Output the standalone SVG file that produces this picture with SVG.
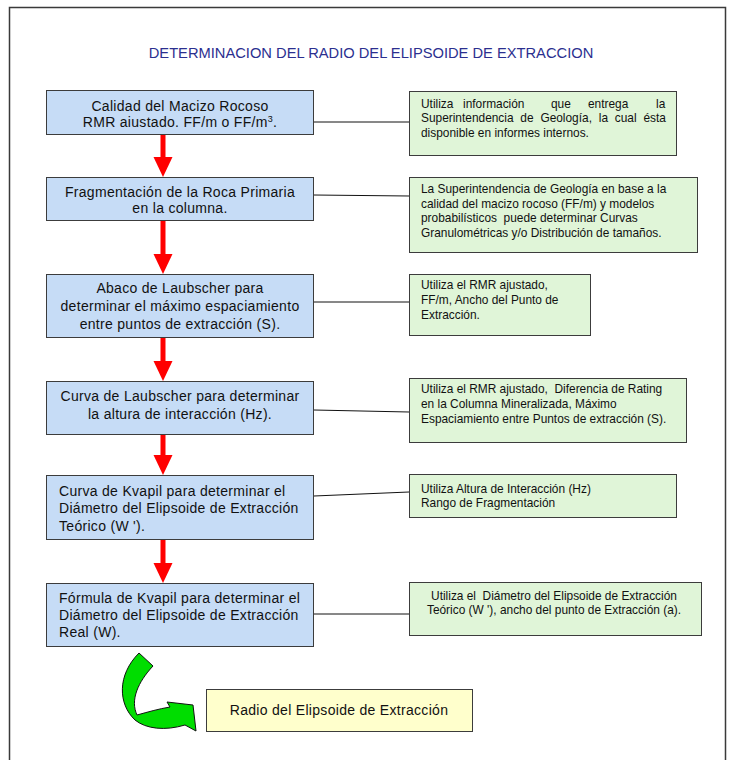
<svg xmlns="http://www.w3.org/2000/svg" width="732" height="760" viewBox="0 0 732 760">
<style>
text{font-family:"Liberation Sans",Arial,sans-serif;fill:#111}
.title{font-size:14.7px;fill:#2b2f8f}
.bt{font-size:14px;letter-spacing:0.3px}
.gt{font-size:11.9px;white-space:pre}
.blue{fill:#c6dcf6;stroke:#3c3c3c;stroke-width:1}
.green{fill:#e0f5d8;stroke:#3c3c3c;stroke-width:1}
.yellow{fill:#ffffcc;stroke:#3c3c3c;stroke-width:1}
.conn{stroke:#111;stroke-width:1;fill:none}
.red{stroke:#ff0000;stroke-width:5;marker-end:url(#rh)}
</style>
<defs>
<marker id="rh" markerUnits="userSpaceOnUse" markerWidth="20" markerHeight="20" refX="0" refY="10" orient="auto">
<path d="M0,0.5 L20,10 L0,19.5 Z" fill="#ff0000"/>
</marker>
</defs>
<rect width="732" height="760" fill="#fff"/>
<path d="M9.5,760 V7.5 H725.5 V760" fill="none" stroke="#3a3a3a" stroke-width="1.5"/>
<text class="title" x="371" y="58" text-anchor="middle">DETERMINACION DEL RADIO DEL ELIPSOIDE DE EXTRACCION</text>

<g id="connectors">
<line class="conn" x1="314" y1="122" x2="409" y2="122"/>
<line class="conn" x1="314" y1="195" x2="409" y2="196"/>
<line class="conn" x1="314" y1="302" x2="409" y2="302"/>
<line class="conn" x1="314" y1="410" x2="409" y2="412"/>
<line class="conn" x1="314" y1="496" x2="409" y2="492"/>
<line class="conn" x1="314" y1="614" x2="409" y2="614"/>
<line class="red" x1="163" y1="135" x2="163" y2="157"/>
<line class="red" x1="163" y1="221" x2="163" y2="254"/>
<line class="red" x1="163" y1="338" x2="163" y2="361"/>
<line class="red" x1="163" y1="435" x2="163" y2="455"/>
<line class="red" x1="163" y1="540" x2="163" y2="563"/>
<path id="greenArrow" d="M139,653 L153,666 C138,682 130,700 137,715 C148,712 158,709 170,707 L167,702 L193,705 L196,731 L185,725 C165,731 146,729 135,720 C118,704 117,675 139,653 Z" fill="#00dd00" stroke="#111" stroke-width="1"/>
</g>

<g id="b1">
<rect class="blue" x="46.5" y="90.5" width="267" height="44"/>
<text class="bt" x="180" y="111" text-anchor="middle">Calidad del Macizo Rocoso</text>
<text class="bt" x="180" y="127" text-anchor="middle">RMR aiustado. FF/m o FF/m<tspan font-size="9" dy="-5">3</tspan><tspan dy="5">.</tspan></text>
</g>
<g id="b2">
<rect class="blue" x="46.5" y="177.5" width="267" height="43"/>
<text class="bt" x="180" y="197" text-anchor="middle">Fragmentación de la Roca Primaria</text>
<text class="bt" x="180" y="213" text-anchor="middle">en la columna.</text>
</g>
<g id="b3">
<rect class="blue" x="46.5" y="274.5" width="267" height="63"/>
<text class="bt" x="180" y="293" text-anchor="middle">Abaco de Laubscher para</text>
<text class="bt" x="180" y="311" text-anchor="middle">determinar el máximo espaciamiento</text>
<text class="bt" x="180" y="329" text-anchor="middle">entre puntos de extracción (S).</text>
</g>
<g id="b4">
<rect class="blue" x="46.5" y="381.5" width="267" height="53"/>
<text class="bt" x="180" y="401" text-anchor="middle">Curva de Laubscher para determinar</text>
<text class="bt" x="180" y="419" text-anchor="middle">la altura de interacción (Hz).</text>
</g>
<g id="b5">
<rect class="blue" x="46.5" y="475.5" width="267" height="64"/>
<text class="bt" x="59" y="496">Curva de Kvapil para determinar el</text>
<text class="bt" x="59" y="513">Diámetro del Elipsoide de Extracción</text>
<text class="bt" x="59" y="530.5">Teórico (W ').</text>
</g>
<g id="b6">
<rect class="blue" x="46.5" y="583.5" width="267" height="63"/>
<text class="bt" x="59" y="603">Fórmula de Kvapil para determinar el</text>
<text class="bt" x="59" y="620">Diámetro del Elipsoide de Extracción</text>
<text class="bt" x="59" y="637">Real (W).</text>
</g>

<g id="g1">
<rect class="green" x="409.5" y="91.5" width="267" height="64"/>
<text class="gt" y="108"><tspan x="421">Utiliza</tspan><tspan x="463">información</tspan><tspan x="551">que</tspan><tspan x="588">entrega</tspan><tspan x="656">la</tspan></text>
<text class="gt" x="421" y="122" word-spacing="3.5">Superintendencia de Geología, la cual ésta</text>
<text class="gt" x="421" y="136.5">disponible en informes internos.</text>
</g>
<g id="g2">
<rect class="green" x="409.5" y="177.5" width="288" height="75"/>
<text class="gt" x="421" y="192.5">La Superintendencia de Geología en base a la</text>
<text class="gt" x="421" y="207.5">calidad del macizo rocoso (FF/m) y modelos</text>
<text class="gt" x="421" y="221.5">probabilísticos  puede determinar Curvas</text>
<text class="gt" x="421" y="236.5">Granulométricas y/o Distribución de tamaños.</text>
</g>
<g id="g3">
<rect class="green" x="409.5" y="274.5" width="181" height="61"/>
<text class="gt" x="421" y="289">Utiliza el RMR ajustado,</text>
<text class="gt" x="421" y="304">FF/m, Ancho del Punto de</text>
<text class="gt" x="421" y="319">Extracción.</text>
</g>
<g id="g4">
<rect class="green" x="409.5" y="378.5" width="277" height="64"/>
<text class="gt" x="421" y="393">Utiliza el RMR ajustado,  Diferencia de Rating</text>
<text class="gt" x="421" y="407.5">en la Columna Mineralizada, Máximo</text>
<text class="gt" x="421" y="422.5">Espaciamiento entre Puntos de extracción (S).</text>
</g>
<g id="g5">
<rect class="green" x="409.5" y="474.5" width="267" height="43"/>
<text class="gt" x="421" y="493">Utiliza Altura de Interacción (Hz)</text>
<text class="gt" x="421" y="506.5">Rango de Fragmentación</text>
</g>
<g id="g6">
<rect class="green" x="409.5" y="582.5" width="292" height="53"/>
<text class="gt" x="554" y="600" text-anchor="middle">Utiliza el  Diámetro del Elipsoide de Extracción</text>
<text class="gt" x="554" y="614" text-anchor="middle">Teórico (W '), ancho del punto de Extracción (a).</text>
</g>
<g id="y1">
<rect class="yellow" x="206.5" y="689.5" width="266" height="42"/>
<text class="bt" x="339" y="715" text-anchor="middle">Radio del Elipsoide de Extracción</text>
</g>
</svg>
